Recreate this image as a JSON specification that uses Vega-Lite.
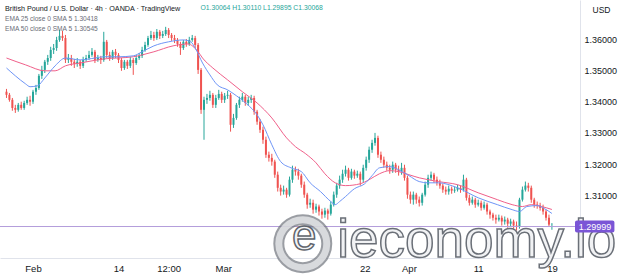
{
  "$schema": "https://vega.github.io/schema/vega-lite/v6.json",
  "width": 580,
  "height": 258,
  "autosize": {"type": "none"},
  "padding": {"left": 0, "top": 0, "right": 42, "bottom": 19},
  "background": "white",
  "config": {
    "view": {"stroke": null},
    "axis": {"labelFont": "Liberation Sans", "titleFont": "Liberation Sans"},
    "title": {"font": "Liberation Sans"}
  },
  "title": {
    "text": "British Pound / U.S. Dollar · 4h · OANDA · TradingView",
    "subtitle": ["EMA 25 close 0 SMA 5  1.30418", "EMA 50 close 0 SMA 5  1.30545"],
    "anchor": "start",
    "frame": "group",
    "orient": "top",
    "offset": -33,
    "dx": 5,
    "fontSize": 7.2,
    "fontWeight": "normal",
    "color": "#131722",
    "subtitleFontSize": 6.6,
    "subtitleColor": "#6a6d78",
    "subtitleFont": "Liberation Sans",
    "subtitlePadding": 4,
    "subtitleLineHeight": 10
  },
  "datasets": {
    "candles": [
      {"t":0,"o":1.3432,"h":1.3441,"l":1.3412,"c":1.3422},
      {"t":1,"o":1.3422,"h":1.3428,"l":1.3400,"c":1.3406},
      {"t":2,"o":1.3406,"h":1.3412,"l":1.3371,"c":1.3380},
      {"t":3,"o":1.3380,"h":1.3390,"l":1.3364,"c":1.3374},
      {"t":4,"o":1.3374,"h":1.3396,"l":1.3368,"c":1.3390},
      {"t":5,"o":1.3390,"h":1.3400,"l":1.3374,"c":1.3380},
      {"t":6,"o":1.3380,"h":1.3403,"l":1.3374,"c":1.3396},
      {"t":7,"o":1.3396,"h":1.3416,"l":1.3390,"c":1.3406},
      {"t":8,"o":1.3406,"h":1.3419,"l":1.3387,"c":1.3400},
      {"t":9,"o":1.3400,"h":1.3438,"l":1.3393,"c":1.3432},
      {"t":10,"o":1.3432,"h":1.3454,"l":1.3422,"c":1.3444},
      {"t":11,"o":1.3444,"h":1.3489,"l":1.3438,"c":1.3483},
      {"t":12,"o":1.3483,"h":1.3515,"l":1.3473,"c":1.3502},
      {"t":13,"o":1.3502,"h":1.3534,"l":1.3492,"c":1.3528},
      {"t":14,"o":1.3528,"h":1.3550,"l":1.3518,"c":1.3540},
      {"t":15,"o":1.3540,"h":1.3576,"l":1.3531,"c":1.3566},
      {"t":16,"o":1.3566,"h":1.3585,"l":1.3553,"c":1.3572},
      {"t":17,"o":1.3572,"h":1.3608,"l":1.3563,"c":1.3598},
      {"t":18,"o":1.3598,"h":1.3630,"l":1.3592,"c":1.3611},
      {"t":19,"o":1.3611,"h":1.3627,"l":1.3595,"c":1.3604},
      {"t":20,"o":1.3604,"h":1.3614,"l":1.3524,"c":1.3534},
      {"t":21,"o":1.3534,"h":1.3553,"l":1.3524,"c":1.3540},
      {"t":22,"o":1.3540,"h":1.3550,"l":1.3515,"c":1.3528},
      {"t":23,"o":1.3528,"h":1.3537,"l":1.3508,"c":1.3521},
      {"t":24,"o":1.3521,"h":1.3540,"l":1.3512,"c":1.3528},
      {"t":25,"o":1.3528,"h":1.3534,"l":1.3505,"c":1.3515},
      {"t":26,"o":1.3515,"h":1.3544,"l":1.3508,"c":1.3534},
      {"t":27,"o":1.3534,"h":1.3550,"l":1.3528,"c":1.3540},
      {"t":28,"o":1.3540,"h":1.3563,"l":1.3534,"c":1.3550},
      {"t":29,"o":1.3550,"h":1.3572,"l":1.3544,"c":1.3560},
      {"t":30,"o":1.3560,"h":1.3566,"l":1.3524,"c":1.3534},
      {"t":31,"o":1.3534,"h":1.3550,"l":1.3528,"c":1.3540},
      {"t":32,"o":1.3540,"h":1.3547,"l":1.3521,"c":1.3534},
      {"t":33,"o":1.3534,"h":1.3624,"l":1.3528,"c":1.3592},
      {"t":34,"o":1.3592,"h":1.3598,"l":1.3540,"c":1.3550},
      {"t":35,"o":1.3550,"h":1.3560,"l":1.3531,"c":1.3540},
      {"t":36,"o":1.3540,"h":1.3566,"l":1.3534,"c":1.3560},
      {"t":37,"o":1.3560,"h":1.3569,"l":1.3540,"c":1.3550},
      {"t":38,"o":1.3550,"h":1.3556,"l":1.3524,"c":1.3534},
      {"t":39,"o":1.3534,"h":1.3540,"l":1.3499,"c":1.3508},
      {"t":40,"o":1.3508,"h":1.3534,"l":1.3502,"c":1.3528},
      {"t":41,"o":1.3528,"h":1.3534,"l":1.3505,"c":1.3515},
      {"t":42,"o":1.3515,"h":1.3544,"l":1.3508,"c":1.3534},
      {"t":43,"o":1.3534,"h":1.3540,"l":1.3486,"c":1.3524},
      {"t":44,"o":1.3524,"h":1.3550,"l":1.3518,"c":1.3540},
      {"t":45,"o":1.3540,"h":1.3556,"l":1.3534,"c":1.3547},
      {"t":46,"o":1.3547,"h":1.3576,"l":1.3540,"c":1.3566},
      {"t":47,"o":1.3566,"h":1.3592,"l":1.3560,"c":1.3582},
      {"t":48,"o":1.3582,"h":1.3611,"l":1.3576,"c":1.3604},
      {"t":49,"o":1.3604,"h":1.3627,"l":1.3598,"c":1.3614},
      {"t":50,"o":1.3614,"h":1.3624,"l":1.3595,"c":1.3604},
      {"t":51,"o":1.3604,"h":1.3633,"l":1.3598,"c":1.3624},
      {"t":52,"o":1.3624,"h":1.3630,"l":1.3601,"c":1.3611},
      {"t":53,"o":1.3611,"h":1.3627,"l":1.3604,"c":1.3617},
      {"t":54,"o":1.3617,"h":1.3640,"l":1.3611,"c":1.3630},
      {"t":55,"o":1.3630,"h":1.3636,"l":1.3604,"c":1.3614},
      {"t":56,"o":1.3614,"h":1.3620,"l":1.3595,"c":1.3604},
      {"t":57,"o":1.3604,"h":1.3614,"l":1.3588,"c":1.3598},
      {"t":58,"o":1.3598,"h":1.3604,"l":1.3576,"c":1.3585},
      {"t":59,"o":1.3585,"h":1.3592,"l":1.3550,"c":1.3572},
      {"t":60,"o":1.3572,"h":1.3598,"l":1.3566,"c":1.3592},
      {"t":61,"o":1.3592,"h":1.3601,"l":1.3576,"c":1.3585},
      {"t":62,"o":1.3585,"h":1.3608,"l":1.3579,"c":1.3598},
      {"t":63,"o":1.3598,"h":1.3614,"l":1.3592,"c":1.3604},
      {"t":64,"o":1.3604,"h":1.3611,"l":1.3572,"c":1.3582},
      {"t":65,"o":1.3582,"h":1.3588,"l":1.3489,"c":1.3502},
      {"t":66,"o":1.3502,"h":1.3508,"l":1.3361,"c":1.3374},
      {"t":67,"o":1.3374,"h":1.3416,"l":1.3278,"c":1.3406},
      {"t":68,"o":1.3406,"h":1.3425,"l":1.3393,"c":1.3412},
      {"t":69,"o":1.3412,"h":1.3435,"l":1.3403,"c":1.3422},
      {"t":70,"o":1.3422,"h":1.3428,"l":1.3380,"c":1.3390},
      {"t":71,"o":1.3390,"h":1.3422,"l":1.3380,"c":1.3412},
      {"t":72,"o":1.3412,"h":1.3438,"l":1.3406,"c":1.3425},
      {"t":73,"o":1.3425,"h":1.3432,"l":1.3396,"c":1.3406},
      {"t":74,"o":1.3406,"h":1.3428,"l":1.3396,"c":1.3419},
      {"t":75,"o":1.3419,"h":1.3435,"l":1.3409,"c":1.3422},
      {"t":76,"o":1.3422,"h":1.3428,"l":1.3304,"c":1.3326},
      {"t":77,"o":1.3326,"h":1.3361,"l":1.3316,"c":1.3348},
      {"t":78,"o":1.3348,"h":1.3396,"l":1.3342,"c":1.3390},
      {"t":79,"o":1.3390,"h":1.3416,"l":1.3380,"c":1.3406},
      {"t":80,"o":1.3406,"h":1.3428,"l":1.3400,"c":1.3416},
      {"t":81,"o":1.3416,"h":1.3422,"l":1.3387,"c":1.3396},
      {"t":82,"o":1.3396,"h":1.3416,"l":1.3387,"c":1.3406},
      {"t":83,"o":1.3406,"h":1.3422,"l":1.3396,"c":1.3412},
      {"t":84,"o":1.3412,"h":1.3419,"l":1.3358,"c":1.3368},
      {"t":85,"o":1.3368,"h":1.3374,"l":1.3326,"c":1.3336},
      {"t":86,"o":1.3336,"h":1.3345,"l":1.3300,"c":1.3310},
      {"t":87,"o":1.3310,"h":1.3320,"l":1.3265,"c":1.3278},
      {"t":88,"o":1.3278,"h":1.3288,"l":1.3220,"c":1.3230},
      {"t":89,"o":1.3230,"h":1.3240,"l":1.3208,"c":1.3220},
      {"t":90,"o":1.3220,"h":1.3233,"l":1.3195,"c":1.3208},
      {"t":91,"o":1.3208,"h":1.3214,"l":1.3156,"c":1.3166},
      {"t":92,"o":1.3166,"h":1.3176,"l":1.3112,"c":1.3124},
      {"t":93,"o":1.3124,"h":1.3134,"l":1.3099,"c":1.3112},
      {"t":94,"o":1.3112,"h":1.3131,"l":1.3102,"c":1.3118},
      {"t":95,"o":1.3118,"h":1.3124,"l":1.3092,"c":1.3102},
      {"t":96,"o":1.3102,"h":1.3160,"l":1.3096,"c":1.3150},
      {"t":97,"o":1.3150,"h":1.3195,"l":1.3140,"c":1.3182},
      {"t":98,"o":1.3182,"h":1.3192,"l":1.3163,"c":1.3176},
      {"t":99,"o":1.3176,"h":1.3185,"l":1.3150,"c":1.3163},
      {"t":100,"o":1.3163,"h":1.3169,"l":1.3124,"c":1.3134},
      {"t":101,"o":1.3134,"h":1.3144,"l":1.3092,"c":1.3102},
      {"t":102,"o":1.3102,"h":1.3108,"l":1.3057,"c":1.3070},
      {"t":103,"o":1.3070,"h":1.3089,"l":1.3060,"c":1.3076},
      {"t":104,"o":1.3076,"h":1.3086,"l":1.3041,"c":1.3054},
      {"t":105,"o":1.3054,"h":1.3073,"l":1.3044,"c":1.3064},
      {"t":106,"o":1.3064,"h":1.3070,"l":1.3035,"c":1.3048},
      {"t":107,"o":1.3048,"h":1.3057,"l":1.3025,"c":1.3038},
      {"t":108,"o":1.3038,"h":1.3060,"l":1.3028,"c":1.3051},
      {"t":109,"o":1.3051,"h":1.3057,"l":1.3022,"c":1.3041},
      {"t":110,"o":1.3041,"h":1.3080,"l":1.3035,"c":1.3070},
      {"t":111,"o":1.3070,"h":1.3112,"l":1.3064,"c":1.3102},
      {"t":112,"o":1.3102,"h":1.3140,"l":1.3092,"c":1.3131},
      {"t":113,"o":1.3131,"h":1.3163,"l":1.3121,"c":1.3150},
      {"t":114,"o":1.3150,"h":1.3182,"l":1.3140,"c":1.3169},
      {"t":115,"o":1.3169,"h":1.3195,"l":1.3160,"c":1.3182},
      {"t":116,"o":1.3182,"h":1.3188,"l":1.3147,"c":1.3156},
      {"t":117,"o":1.3156,"h":1.3185,"l":1.3150,"c":1.3176},
      {"t":118,"o":1.3176,"h":1.3182,"l":1.3153,"c":1.3163},
      {"t":119,"o":1.3163,"h":1.3179,"l":1.3156,"c":1.3169},
      {"t":120,"o":1.3169,"h":1.3176,"l":1.3131,"c":1.3150},
      {"t":121,"o":1.3150,"h":1.3198,"l":1.3140,"c":1.3188},
      {"t":122,"o":1.3188,"h":1.3224,"l":1.3179,"c":1.3214},
      {"t":123,"o":1.3214,"h":1.3256,"l":1.3204,"c":1.3246},
      {"t":124,"o":1.3246,"h":1.3278,"l":1.3236,"c":1.3268},
      {"t":125,"o":1.3268,"h":1.3300,"l":1.3259,"c":1.3284},
      {"t":126,"o":1.3284,"h":1.3291,"l":1.3220,"c":1.3230},
      {"t":127,"o":1.3230,"h":1.3240,"l":1.3204,"c":1.3214},
      {"t":128,"o":1.3214,"h":1.3224,"l":1.3188,"c":1.3198},
      {"t":129,"o":1.3198,"h":1.3208,"l":1.3179,"c":1.3188},
      {"t":130,"o":1.3188,"h":1.3198,"l":1.3169,"c":1.3182},
      {"t":131,"o":1.3182,"h":1.3208,"l":1.3172,"c":1.3198},
      {"t":132,"o":1.3198,"h":1.3204,"l":1.3172,"c":1.3182},
      {"t":133,"o":1.3182,"h":1.3195,"l":1.3163,"c":1.3176},
      {"t":134,"o":1.3176,"h":1.3204,"l":1.3166,"c":1.3188},
      {"t":135,"o":1.3188,"h":1.3198,"l":1.3147,"c":1.3156},
      {"t":136,"o":1.3156,"h":1.3163,"l":1.3089,"c":1.3102},
      {"t":137,"o":1.3102,"h":1.3112,"l":1.3073,"c":1.3086},
      {"t":138,"o":1.3086,"h":1.3112,"l":1.3070,"c":1.3102},
      {"t":139,"o":1.3102,"h":1.3108,"l":1.3073,"c":1.3086},
      {"t":140,"o":1.3086,"h":1.3096,"l":1.3064,"c":1.3076},
      {"t":141,"o":1.3076,"h":1.3108,"l":1.3067,"c":1.3102},
      {"t":142,"o":1.3102,"h":1.3144,"l":1.3096,"c":1.3134},
      {"t":143,"o":1.3134,"h":1.3166,"l":1.3124,"c":1.3156},
      {"t":144,"o":1.3156,"h":1.3176,"l":1.3147,"c":1.3166},
      {"t":145,"o":1.3166,"h":1.3172,"l":1.3140,"c":1.3150},
      {"t":146,"o":1.3150,"h":1.3160,"l":1.3131,"c":1.3140},
      {"t":147,"o":1.3140,"h":1.3150,"l":1.3121,"c":1.3131},
      {"t":148,"o":1.3131,"h":1.3137,"l":1.3108,"c":1.3118},
      {"t":149,"o":1.3118,"h":1.3128,"l":1.3102,"c":1.3112},
      {"t":150,"o":1.3112,"h":1.3131,"l":1.3102,"c":1.3121},
      {"t":151,"o":1.3121,"h":1.3128,"l":1.3105,"c":1.3115},
      {"t":152,"o":1.3115,"h":1.3128,"l":1.3108,"c":1.3118},
      {"t":153,"o":1.3118,"h":1.3134,"l":1.3112,"c":1.3124},
      {"t":154,"o":1.3124,"h":1.3131,"l":1.3108,"c":1.3118},
      {"t":155,"o":1.3118,"h":1.3166,"l":1.3112,"c":1.3150},
      {"t":156,"o":1.3150,"h":1.3156,"l":1.3083,"c":1.3092},
      {"t":157,"o":1.3092,"h":1.3102,"l":1.3067,"c":1.3076},
      {"t":158,"o":1.3076,"h":1.3096,"l":1.3070,"c":1.3086},
      {"t":159,"o":1.3086,"h":1.3092,"l":1.3060,"c":1.3070},
      {"t":160,"o":1.3070,"h":1.3086,"l":1.3064,"c":1.3076},
      {"t":161,"o":1.3076,"h":1.3083,"l":1.3051,"c":1.3060},
      {"t":162,"o":1.3060,"h":1.3080,"l":1.3054,"c":1.3070},
      {"t":163,"o":1.3070,"h":1.3076,"l":1.3038,"c":1.3048},
      {"t":164,"o":1.3048,"h":1.3054,"l":1.3025,"c":1.3038},
      {"t":165,"o":1.3038,"h":1.3044,"l":1.3019,"c":1.3028},
      {"t":166,"o":1.3028,"h":1.3038,"l":1.3009,"c":1.3022},
      {"t":167,"o":1.3022,"h":1.3038,"l":1.3016,"c":1.3028},
      {"t":168,"o":1.3028,"h":1.3035,"l":1.3003,"c":1.3016},
      {"t":169,"o":1.3016,"h":1.3032,"l":1.3006,"c":1.3022},
      {"t":170,"o":1.3022,"h":1.3028,"l":1.2996,"c":1.3009},
      {"t":171,"o":1.3009,"h":1.3025,"l":1.3000,"c":1.3016},
      {"t":172,"o":1.3016,"h":1.3022,"l":1.2993,"c":1.3003},
      {"t":173,"o":1.3003,"h":1.3016,"l":1.2987,"c":1.3000},
      {"t":174,"o":1.3000,"h":1.3092,"l":1.2993,"c":1.3086},
      {"t":175,"o":1.3086,"h":1.3128,"l":1.3080,"c":1.3118},
      {"t":176,"o":1.3118,"h":1.3144,"l":1.3112,"c":1.3131},
      {"t":177,"o":1.3131,"h":1.3140,"l":1.3112,"c":1.3124},
      {"t":178,"o":1.3124,"h":1.3131,"l":1.3076,"c":1.3086},
      {"t":179,"o":1.3086,"h":1.3092,"l":1.3060,"c":1.3070},
      {"t":180,"o":1.3070,"h":1.3080,"l":1.3057,"c":1.3067},
      {"t":181,"o":1.3067,"h":1.3076,"l":1.3051,"c":1.3060},
      {"t":182,"o":1.3060,"h":1.3070,"l":1.3038,"c":1.3048},
      {"t":183,"o":1.3048,"h":1.3054,"l":1.3019,"c":1.3028},
      {"t":184,"o":1.3028,"h":1.3038,"l":1.3000,"c":1.3006},
      {"t":185,"o":1.30064,"h":1.30110,"l":1.29895,"c":1.30068}
    ],
    "ema25": [
      {"t":0,"v":1.3508},{"t":3,"v":1.3483},{"t":6.5,"v":1.3457},{"t":8,"v":1.3448},
      {"t":10.5,"v":1.3451},{"t":13,"v":1.3476},{"t":16.5,"v":1.3515},{"t":20,"v":1.3540},
      {"t":25,"v":1.3534},{"t":30,"v":1.3540},{"t":33,"v":1.3544},{"t":38,"v":1.3544},
      {"t":43,"v":1.3547},{"t":46,"v":1.3560},{"t":50,"v":1.3579},{"t":55,"v":1.3592},
      {"t":60,"v":1.3598},{"t":62.5,"v":1.3592},{"t":64,"v":1.3572},{"t":66.5,"v":1.3524},
      {"t":69,"v":1.3486},{"t":71.5,"v":1.3454},{"t":75,"v":1.3438},{"t":78,"v":1.3419},
      {"t":81.5,"v":1.3393},{"t":85,"v":1.3358},{"t":87,"v":1.3326},{"t":90,"v":1.3262},
      {"t":93,"v":1.3208},{"t":96.5,"v":1.3188},{"t":100,"v":1.3176},{"t":103,"v":1.3140},
      {"t":106.5,"v":1.3112},{"t":110,"v":1.3080},{"t":111.5,"v":1.3070},{"t":113,"v":1.3080},
      {"t":115,"v":1.3096},{"t":118,"v":1.3121},{"t":121.5,"v":1.3137},{"t":124,"v":1.3163},
      {"t":126.5,"v":1.3188},{"t":130,"v":1.3192},{"t":133,"v":1.3182},{"t":136.5,"v":1.3163},
      {"t":140,"v":1.3144},{"t":143,"v":1.3140},{"t":146.5,"v":1.3140},{"t":153,"v":1.3124},
      {"t":160,"v":1.3092},{"t":166.5,"v":1.3070},{"t":171.5,"v":1.3054},{"t":174,"v":1.3048},
      {"t":176.5,"v":1.3064},{"t":180,"v":1.3067},{"t":182.5,"v":1.3057},{"t":185,"v":1.30418}
    ],
    "ema50": [
      {"t":0,"v":1.3540},{"t":6.5,"v":1.3518},{"t":13,"v":1.3499},{"t":16.5,"v":1.3499},
      {"t":20,"v":1.3515},{"t":25,"v":1.3524},{"t":33,"v":1.3537},{"t":43,"v":1.3544},
      {"t":46,"v":1.3550},{"t":50,"v":1.3560},{"t":56.5,"v":1.3579},{"t":61.5,"v":1.3585},
      {"t":65,"v":1.3560},{"t":66.5,"v":1.3540},{"t":70,"v":1.3508},{"t":75,"v":1.3470},
      {"t":80,"v":1.3432},{"t":85,"v":1.3396},{"t":90,"v":1.3348},{"t":95,"v":1.3284},
      {"t":98,"v":1.3256},{"t":101.5,"v":1.3233},{"t":105,"v":1.3204},{"t":108,"v":1.3169},
      {"t":111.5,"v":1.3140},{"t":115,"v":1.3131},{"t":120,"v":1.3137},{"t":123,"v":1.3150},
      {"t":126.5,"v":1.3169},{"t":130,"v":1.3179},{"t":133,"v":1.3176},{"t":136.5,"v":1.3166},
      {"t":140,"v":1.3156},{"t":143,"v":1.3150},{"t":146.5,"v":1.3144},{"t":153,"v":1.3134},
      {"t":160,"v":1.3108},{"t":166.5,"v":1.3086},{"t":171.5,"v":1.3070},{"t":175,"v":1.3064},
      {"t":178,"v":1.3070},{"t":181.5,"v":1.3064},{"t":185,"v":1.30545}
    ]
  },
  "layer": [
    {
      "data": {"name": "candles"},
      "mark": {"type": "rule", "strokeWidth": 1},
      "encoding": {
        "x": {
          "field": "t", "type": "quantitative",
          "scale": {"domain": [-0.5, 192.83], "nice": false, "zero": false},
          "axis": {
            "orient": "bottom",
            "values": [9, 38, 55, 73.5, 121.5, 136.5, 160, 185],
            "labelExpr": "datum.value==9?'Feb':datum.value==38?'14':datum.value==55?'12:00':datum.value==73.5?'Mar':datum.value==121.5?'22':datum.value==136.5?'Apr':datum.value==160?'11':'19'",
            "ticks": false, "grid": false,
            "domainColor": "#e0e3eb",
            "labelColor": "#131722", "labelFontSize": 9.5, "labelPadding": 5,
            "labelFlush": false, "labelOverlap": false,
            "title": "O1.30064 H1.30110 L1.29895 C1.30068",
            "titleColor": "#26a69a", "titleFontSize": 6.8, "titleFontWeight": "normal",
            "titleX": 200, "titleY": -254, "titleAlign": "left", "titleBaseline": "top"
          }
        },
        "y": {
          "field": "l", "type": "quantitative",
          "scale": {"domain": [1.2899, 1.3726], "nice": false, "zero": false},
          "axis": {
            "orient": "right",
            "values": [1.31, 1.32, 1.33, 1.34, 1.35, 1.36],
            "format": ".5f",
            "ticks": false, "grid": false,
            "domainColor": "#e0e3eb",
            "labelColor": "#131722", "labelFontSize": 9, "labelPadding": 4,
            "title": "USD",
            "titleAngle": 0, "titleX": 21, "titleY": 9, "titleAlign": "center",
            "titleBaseline": "middle", "titleFontSize": 8.5, "titleFontWeight": "normal",
            "titleColor": "#131722"
          }
        },
        "y2": {"field": "h"},
        "color": {"condition": {"test": "datum.c >= datum.o", "value": "#26a69a"}, "value": "#ef5350"}
      }
    },
    {
      "data": {"name": "candles"},
      "mark": {"type": "bar", "size": 2},
      "encoding": {
        "x": {"field": "t", "type": "quantitative"},
        "y": {"field": "o", "type": "quantitative"},
        "y2": {"field": "c"},
        "color": {"condition": {"test": "datum.c >= datum.o", "value": "#26a69a"}, "value": "#ef5350"}
      }
    },
    {
      "data": {"name": "ema50"},
      "mark": {"type": "line", "strokeWidth": 1, "color": "#f0608a", "interpolate": "monotone"},
      "encoding": {
        "x": {"field": "t", "type": "quantitative"},
        "y": {"field": "v", "type": "quantitative"}
      }
    },
    {
      "data": {"name": "ema25"},
      "mark": {"type": "line", "strokeWidth": 1, "color": "#6e95f7", "interpolate": "monotone"},
      "encoding": {
        "x": {"field": "t", "type": "quantitative"},
        "y": {"field": "v", "type": "quantitative"}
      }
    },
    {
      "data": {"values": [{}]},
      "mark": {"type": "rule", "color": "#b39ddb", "strokeWidth": 1},
      "encoding": {"y": {"datum": 1.29999}}
    },
    {
      "data": {"values": [{}]},
      "mark": {"type": "point", "shape": "circle", "filled": false, "stroke": "#70757d", "strokeWidth": 11, "size": 2300},
      "encoding": {"x": {"datum": 100.5}, "y": {"datum": 1.2945}}
    },
    {
      "data": {"values": [{}]},
      "mark": {"type": "point", "shape": "circle", "filled": false, "stroke": "#f3f4f6", "strokeWidth": 7, "size": 2300},
      "encoding": {"x": {"datum": 100.5}, "y": {"datum": 1.2945}}
    },
    {
      "data": {"values": [{"w": "e"}]},
      "mark": {"type": "text", "font": "Liberation Sans", "fontSize": 44, "fill": "#f3f4f6", "stroke": "#5f646c", "strokeWidth": 1.5, "align": "center", "baseline": "middle"},
      "encoding": {"x": {"datum": 101}, "y": {"datum": 1.2965}, "text": {"field": "w"}}
    },
    {
      "data": {"values": [{"w": "ieconomy.io"}]},
      "mark": {"type": "text", "font": "Liberation Sans", "fontSize": 53, "fill": "#f1f2f4", "stroke": "#6b7078", "strokeWidth": 1.5, "align": "left", "baseline": "alphabetic"},
      "encoding": {"x": {"datum": 112.2}, "y": {"datum": 1.29036}, "text": {"field": "w"}}
    },
    {
      "data": {"values": [{}]},
      "mark": {"type": "rect", "color": "#7a55d6", "cornerRadius": 2},
      "encoding": {
        "x": {"datum": 192.83}, "x2": {"datum": 206.2},
        "y": {"datum": 1.2981}, "y2": {"datum": 1.3019}
      }
    },
    {
      "data": {"values": [{"w": "1.29999"}]},
      "mark": {"type": "text", "font": "Liberation Sans", "fontSize": 9, "color": "white", "align": "left", "baseline": "middle"},
      "encoding": {"x": {"datum": 194.1}, "y": {"datum": 1.29999}, "text": {"field": "w"}}
    }
  ]
}
